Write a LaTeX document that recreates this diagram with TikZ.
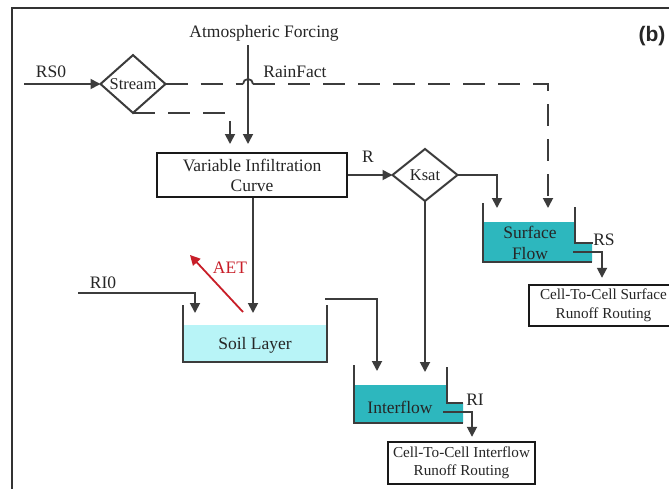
\documentclass[tikz,border=0pt]{standalone}
\usepackage{fontspec}
\setmainfont{Liberation Serif}
\newfontfamily\panelfont{Liberation Sans}
\usetikzlibrary{arrows.meta,shapes.geometric}
\definecolor{linegray}{RGB}{60,60,60}
\definecolor{flowteal}{RGB}{45,183,190}
\definecolor{soilcyan}{RGB}{184,244,247}
\definecolor{aetred}{RGB}{200,30,40}
\begin{document}
\begin{tikzpicture}[x=1pt,y=-1pt,
  plain/.style={draw=linegray, line width=1.8pt},
  flow/.style={plain, -{Triangle[width=10pt,length=10pt]}},
  dashflow/.style={flow, dash pattern=on 22pt off 13pt},
  dashline/.style={plain, dash pattern=on 22pt off 13pt},
  lbl/.style={inner sep=0pt, text=black!85, font=\fontsize{17.5}{20}\selectfont},
  procbox/.style={draw=black!90, line width=2.4pt, inner sep=0pt, align=center, text=black!85},
  decision/.style={diamond, draw=linegray, line width=2pt, minimum width=65pt,
    minimum height=52pt, inner sep=0pt, outer sep=0pt, text=black!85, font=\fontsize{16.5}{19}\selectfont},
  wall/.style={draw=linegray, line width=1.8pt}]
\useasboundingbox (0,0) rectangle (669,488);
\clip (0,0) rectangle (669,488);
\fill[white] (0,0) rectangle (669,488);

% panel frame
\draw[line width=2.6pt, black!80] (12,490) -- (12,8) -- (672,8);
\node[inner sep=0pt, font=\panelfont\bfseries\fontsize{21}{24}\selectfont, text=black!85] (panel) at (652,36) {(b)};

% labels
\node[lbl] (atm) at (264,33) {Atmospheric Forcing};
\node[lbl] (rainfact) at (295,72) {RainFact};
\node[lbl] (rs0) at (51,72) {RS0};
\node[lbl] (rlbl) at (368,157) {R};
\node[lbl] (ri0) at (103,283) {RI0};
\node[lbl, text=aetred] (aet) at (230,268) {AET};
\node[lbl] (rslbl) at (604,240) {RS};
\node[lbl] (rilbl) at (475,400) {RI};

% decision diamonds and process boxes
\node[decision] (stream) at (133,84) {Stream};
\node[decision] (ksat) at (425,175) {Ksat};
\node[procbox, minimum width=190pt, minimum height=44pt, font=\fontsize{17.5}{20}\selectfont] (vic) at (252,175)
  {Variable Infiltration\\Curve};
\node[procbox, minimum width=149pt, minimum height=41pt, font=\fontsize{15.2}{19}\selectfont] (sfbox) at (603.5,305.5)
  {Cell-To-Cell Surface\\Runoff Routing};
\node[procbox, minimum width=147pt, minimum height=42pt, font=\fontsize{15.2}{18}\selectfont] (ifbox) at (461.5,463)
  {Cell-To-Cell Interflow\\Runoff Routing};

% soil layer tank
\fill[soilcyan] (183,325) rectangle (327,362);
\draw[wall] (183,305) -- (183,362) -- (327,362) -- (327,305);
\node[lbl] (soil) at (255,345) {Soil Layer};

% surface flow tank
\fill[flowteal] (483,222) -- (575,222) -- (575,243) -- (592,243) -- (592,262) -- (483,262) -- cycle;
\draw[wall] (483,203) -- (483,262) -- (592,262);
\draw[wall] (575,207) -- (575,243) -- (593,243);
\node[lbl, align=center, font=\fontsize{17.5}{21}\selectfont] (surf) at (530,243) {Surface\\Flow};

% interflow tank
\fill[flowteal] (354,385) -- (447,385) -- (447,403) -- (463,403) -- (463,423) -- (354,423) -- cycle;
\draw[wall] (354,365) -- (354,423) -- (463,423);
\draw[wall] (447,367) -- (447,403) -- (463,403);
\node[lbl] (inter) at (400,407) {Interflow};

% anchor points of the flows
\coordinate (rs0start) at (24,84);
\coordinate (hopL) at (243,84);
\coordinate (hopR) at (253,84);
\coordinate (dashcorner) at (548,84);
\coordinate (sfdash) at (548,208);
\coordinate (vicdash) at (230,144);
\coordinate (atmtop) at (248,45);
\coordinate (atmend) at (248,144);
\coordinate (ksatturn) at (497,175);
\coordinate (sfin) at (497,208);
\coordinate (ifin2) at (425,372);
\coordinate (soilin) at (253,313);
\coordinate (ri0start) at (78,293);
\coordinate (ri0turn) at (195,293);
\coordinate (ri0end) at (195,313);
\coordinate (soilout) at (325,299);
\coordinate (soilturn) at (377,299);
\coordinate (ifin1) at (377,371);
\coordinate (aetstart) at (243,312);
\coordinate (aetend) at (190,255);
\coordinate (sfout) at (573,252);
\coordinate (sfoutturn) at (602,252);
\coordinate (ifout) at (443,412);
\coordinate (ifoutturn) at (472,412);

% flows into the stream decision
\draw[flow] (rs0start) -- (stream.west);
\draw[dashline] (stream.east) -- (hopL);
\draw[plain] (hopL) arc (180:0:5pt);
\draw[dashflow] (hopR) -- (dashcorner) -- (sfdash);
\draw[dashflow] (stream.south) -- (stream.south -| vicdash) -- (vicdash);
\draw[flow] (atmtop) -- (atmend);

% infiltration and saturation
\draw[flow] (vic.east |- ksat.west) -- (ksat.west);
\draw[flow] (ksat.east) -- (ksatturn) -- (sfin);
\draw[flow] (ksat.south) -- (ifin2);
\draw[flow] (vic.south -| soilin) -- (soilin);
\draw[flow] (ri0start) -- (ri0turn) -- (ri0end);
\draw[flow] (soilout) -- (soilturn) -- (ifin1);
\draw[draw=aetred, line width=1.8pt, -{Triangle[width=10pt,length=10pt]}] (aetstart) -- (aetend);

% outlets to the routing boxes
\draw[flow, shorten >=6pt] (sfout) -- (sfoutturn) -- (sfbox.north -| sfoutturn);
\draw[flow, shorten >=4pt] (ifout) -- (ifoutturn) -- (ifbox.north -| ifoutturn);
\end{tikzpicture}
\end{document}
